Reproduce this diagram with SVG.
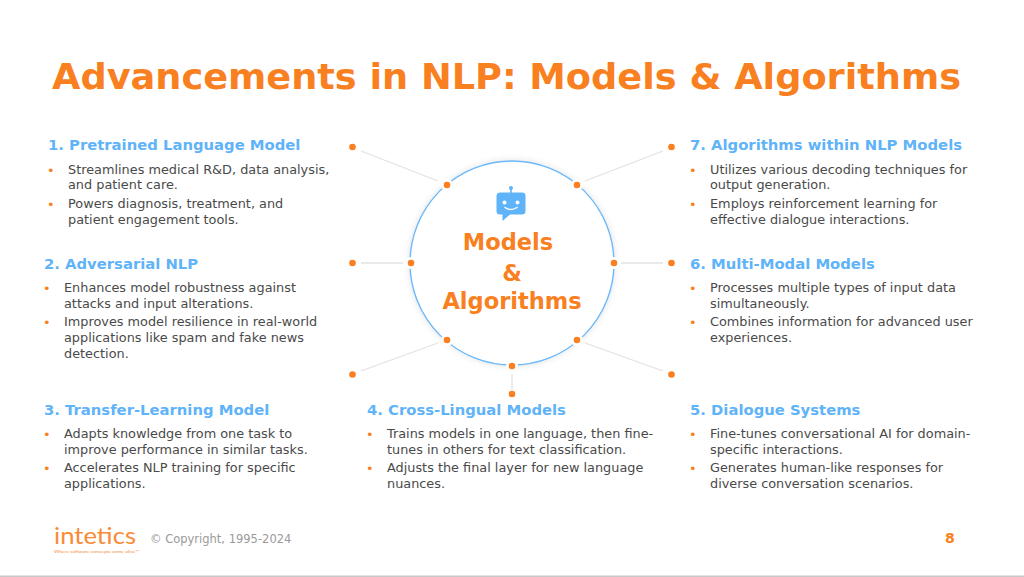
<svg xmlns="http://www.w3.org/2000/svg" width="1024" height="577" viewBox="0 0 1024 577">
<defs>
<style>
text{font-family:"DejaVu Sans","Verdana",sans-serif}
.t{font-size:36px;font-weight:700;fill:#f98021}
.h{font-size:14.8px;font-weight:700;fill:#5fb3f8}
.b{font-size:12.85px;fill:#4a4a4a}
.u{fill:#f98021}
.c{font-size:22.5px;font-weight:700;fill:#f98021;text-anchor:middle}
.l{stroke:#e2e2e2;stroke-width:1.3;fill:none}
.d{fill:#f97f20}
.w{fill:#fff}
</style>
<filter id="s" x="-10%" y="-10%" width="120%" height="120%"><feDropShadow dx="0" dy="0" stdDeviation="3" flood-color="#000" flood-opacity=".12"/></filter>
</defs>
<rect width="1024" height="577" fill="#fff"/>
<rect y="575.5" width="1024" height="1.5" fill="#c8c8c8"/>
<text id="title" class="t" x="52" y="89" textLength="909" lengthAdjust="spacingAndGlyphs">Advancements in NLP: Models &amp; Algorithms</text>

<g id="connectors">
<path class="l" d="M361 151L438 181M663 151L585 181M361 263H403M663 263H621M361 371L438 343M663 371L585 343M512 374V390"/>
</g>

<g id="center">
<circle cx="512" cy="263" r="102" fill="#fff" stroke="#6cb8f8" stroke-width="1.4" filter="url(#s)"/>
<g fill="#5fb3f8">
<circle cx="511" cy="188" r="2"/><rect x="510.2" y="188" width="1.6" height="6"/>
<path d="M500 192.500H522a3.500 3.500 0 0 1 3.500 3.500V211a3.500 3.500 0 0 1-3.500 3.500H510L502.500 221V214.500H500a3.500 3.500 0 0 1-3.500-3.500V196a3.500 3.500 0 0 1 3.500-3.500Z"/>
</g>
<circle class="w" cx="504.500" cy="202.500" r="2"/><circle class="w" cx="517.500" cy="202.500" r="2"/>
<path d="M505 207.500Q511 211.500 517 207.500" fill="none" stroke="#fff" stroke-width="1.500" stroke-linecap="round"/>
<text class="c" x="508" y="250">Models</text>
<text class="c" x="512" y="281">&amp;</text>
<text class="c" x="512" y="309">Algorithms</text>
</g>

<g id="dots">
<circle class="w" cx="447" cy="185" r="6"/><circle class="w" cx="577" cy="185" r="6"/><circle class="w" cx="411" cy="263" r="6"/><circle class="w" cx="614" cy="263" r="6"/><circle class="w" cx="447" cy="340" r="6"/><circle class="w" cx="577" cy="340" r="6"/><circle class="w" cx="512" cy="366" r="6"/>
<circle class="d" cx="447" cy="185" r="3.300"/><circle class="d" cx="577" cy="185" r="3.300"/><circle class="d" cx="411" cy="263" r="3.300"/><circle class="d" cx="614" cy="263" r="3.300"/><circle class="d" cx="447" cy="340" r="3.300"/><circle class="d" cx="577" cy="340" r="3.300"/><circle class="d" cx="512" cy="366" r="3.300"/>
<circle class="d" cx="352.500" cy="147" r="3.300"/><circle class="d" cx="671.500" cy="147" r="3.300"/><circle class="d" cx="352.500" cy="263" r="3.300"/><circle class="d" cx="671.500" cy="263" r="3.300"/><circle class="d" cx="352.500" cy="374.500" r="3.300"/><circle class="d" cx="671.500" cy="374.500" r="3.300"/><circle class="d" cx="512" cy="394" r="3.300"/>
</g>

<g id="node1">
<text class="h" x="48" y="150">1. Pretrained Language Model</text>
<text class="u b" x="47" y="175">•</text><text class="b" x="68" y="174">Streamlines medical R&amp;D, data analysis,</text><text class="b" x="68" y="189">and patient care.</text>
<text class="u b" x="47" y="209">•</text><text class="b" x="68" y="208">Powers diagnosis, treatment, and</text><text class="b" x="68" y="224">patient engagement tools.</text>
</g>
<g id="node2">
<text class="h" x="44" y="269">2. Adversarial NLP</text>
<text class="u b" x="43" y="293">•</text><text class="b" x="64" y="292">Enhances model robustness against</text><text class="b" x="64" y="308">attacks and input alterations.</text>
<text class="u b" x="43" y="327">•</text><text class="b" x="64" y="326">Improves model resilience in real-world</text><text class="b" x="64" y="342">applications like spam and fake news</text><text class="b" x="64" y="358">detection.</text>
</g>
<g id="node3">
<text class="h" x="44" y="415">3. Transfer-Learning Model</text>
<text class="u b" x="43" y="439">•</text><text class="b" x="64" y="438">Adapts knowledge from one task to</text><text class="b" x="64" y="454">improve performance in similar tasks.</text>
<text class="u b" x="43" y="473">•</text><text class="b" x="64" y="472">Accelerates NLP training for specific</text><text class="b" x="64" y="488">applications.</text>
</g>
<g id="node4">
<text class="h" x="367" y="415">4. Cross-Lingual Models</text>
<text class="u b" x="366" y="439">•</text><text class="b" x="387" y="438">Trains models in one language, then fine-</text><text class="b" x="387" y="454">tunes in others for text classification.</text>
<text class="u b" x="366" y="473">•</text><text class="b" x="387" y="472">Adjusts the final layer for new language</text><text class="b" x="387" y="488">nuances.</text>
</g>
<g id="node5">
<text class="h" x="690" y="415">5. Dialogue Systems</text>
<text class="u b" x="689" y="439">•</text><text class="b" x="710" y="438">Fine-tunes conversational AI for domain-</text><text class="b" x="710" y="454">specific interactions.</text>
<text class="u b" x="689" y="473">•</text><text class="b" x="710" y="472">Generates human-like responses for</text><text class="b" x="710" y="488">diverse conversation scenarios.</text>
</g>
<g id="node6">
<text class="h" x="690" y="269">6. Multi-Modal Models</text>
<text class="u b" x="689" y="293">•</text><text class="b" x="710" y="292">Processes multiple types of input data</text><text class="b" x="710" y="308">simultaneously.</text>
<text class="u b" x="689" y="327">•</text><text class="b" x="710" y="326">Combines information for advanced user</text><text class="b" x="710" y="342">experiences.</text>
</g>
<g id="node7">
<text class="h" x="690" y="150">7. Algorithms within NLP Models</text>
<text class="u b" x="689" y="175">•</text><text class="b" x="710" y="174">Utilizes various decoding techniques for</text><text class="b" x="710" y="189">output generation.</text>
<text class="u b" x="689" y="209">•</text><text class="b" x="710" y="208">Employs reinforcement learning for</text><text class="b" x="710" y="224">effective dialogue interactions.</text>
</g>

<g id="footer">
<text x="54" y="544" style="font-family:Lato,sans-serif;font-size:23px;font-weight:400" fill="#f98a36" textLength="82" lengthAdjust="spacingAndGlyphs">intetics</text>
<text x="54" y="553" style="font-family:Lato,sans-serif;font-size:4.200px" fill="#f98a36" textLength="85" lengthAdjust="spacingAndGlyphs">Where software concepts come alive™</text>
<text x="150" y="543" style="font-size:11.500px" fill="#9a9a9a">© Copyright, 1995-2024</text>
<text x="945" y="543" style="font-size:14px;font-weight:700" fill="#f98021">8</text>
</g>
</svg>
